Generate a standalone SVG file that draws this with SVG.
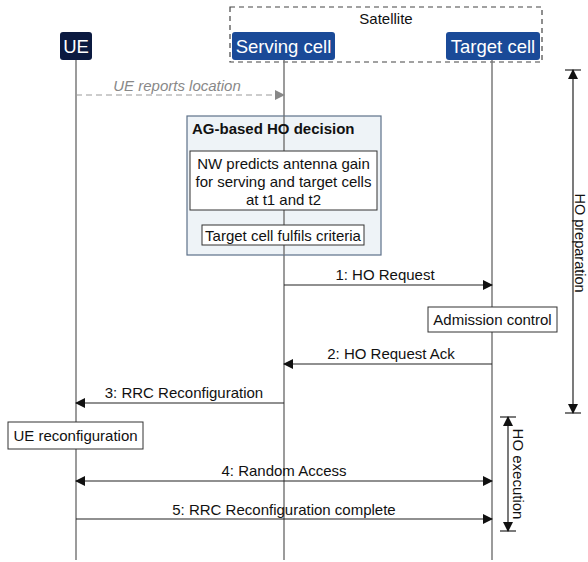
<svg xmlns="http://www.w3.org/2000/svg" width="588" height="562" viewBox="0 0 588 562">
<defs>
<style>
text{font-family:"Liberation Sans",Arial,sans-serif;font-size:15px;fill:#111}
.head{fill:#fff;font-size:18.5px;text-anchor:middle}
.life{stroke:#7a7a7a;stroke-width:1.5;fill:none}
.msg{stroke:#222;stroke-width:1.2;fill:none}
.note{fill:#fff;stroke:#333;stroke-width:1}
.c{text-anchor:middle}
</style>
<marker id="ah" markerWidth="10" markerHeight="10" refX="9" refY="5" orient="auto-start-reverse" markerUnits="userSpaceOnUse">
<path d="M0,0 L10,5 L0,10 Z" fill="#111"/>
</marker>
<marker id="ahg" markerWidth="10" markerHeight="10" refX="9" refY="5" orient="auto" markerUnits="userSpaceOnUse">
<path d="M0,0 L10,5 L0,10 Z" fill="#888"/>
</marker>
</defs>
<rect width="588" height="562" fill="#fff"/>

<g id="satellite">
<rect x="230" y="7" width="312" height="55" fill="none" stroke="#444" stroke-width="1.2" stroke-dasharray="5,4"/>
<text x="386" y="24" class="c">Satellite</text>
</g>

<g id="lifelines">
<line class="life" x1="76" y1="60" x2="76" y2="560"/>
<line class="life" x1="284" y1="60" x2="284" y2="560"/>
<line class="life" x1="492" y1="60" x2="492" y2="560"/>
</g>

<g id="ue">
<rect x="60" y="32" width="32" height="28" rx="3" fill="#0b1a40"/>
<text x="76" y="53" class="head">UE</text>
</g>
<g id="serving">
<rect x="232" y="32" width="103" height="28" rx="3" fill="#1a4a98"/>
<text x="283.5" y="53" class="head">Serving cell</text>
</g>
<g id="target">
<rect x="446" y="32" width="94" height="28" rx="3" fill="#1a4a98"/>
<text x="493" y="53" class="head">Target cell</text>
</g>

<g id="ag-decision">
<rect x="187" y="116" width="194" height="139" fill="#eef3f7" stroke="#5d7189" stroke-width="1.2"/>
<line class="life" x1="284" y1="116" x2="284" y2="255"/>
<text x="192" y="134" style="font-weight:bold">AG-based HO decision</text>
</g>
<g id="nw-predicts">
<rect class="note" x="190" y="151" width="187" height="59"/>
<text x="283.5" y="169" class="c">NW predicts antenna gain</text>
<text x="283.5" y="187" class="c">for serving and target cells</text>
<text x="283.5" y="205" class="c">at t1 and t2</text>
</g>
<g id="criteria">
<rect class="note" x="202" y="225" width="162" height="20"/>
<text x="283" y="240.5" class="c">Target cell fulfils criteria</text>
</g>

<g id="admission">
<rect class="note" x="428" y="307" width="129" height="25"/>
<text x="492.5" y="325" class="c">Admission control</text>
</g>
<g id="ue-reconf">
<rect class="note" x="8" y="422" width="135" height="27"/>
<text x="75.5" y="441" class="c">UE reconfiguration</text>
</g>

<g id="connectors">
<line x1="76" y1="95" x2="284" y2="95" stroke="#999" stroke-width="1.2" stroke-dasharray="6,4" marker-end="url(#ahg)"/>
<text x="177" y="91" class="c" style="fill:#888;font-style:italic">UE reports location</text>

<line class="msg" x1="284" y1="285" x2="492" y2="285" marker-end="url(#ah)"/>
<text x="385" y="280" class="c">1: HO Request</text>

<line class="msg" x1="492" y1="364" x2="284" y2="364" marker-end="url(#ah)"/>
<text x="391" y="359" class="c">2: HO Request Ack</text>

<line class="msg" x1="284" y1="403" x2="76" y2="403" marker-end="url(#ah)"/>
<text x="184" y="398" class="c">3: RRC Reconfiguration</text>

<line class="msg" x1="76" y1="481" x2="492" y2="481" marker-start="url(#ah)" marker-end="url(#ah)"/>
<text x="284" y="476" class="c">4: Random Access</text>

<line class="msg" x1="76" y1="519" x2="492" y2="519" marker-end="url(#ah)"/>
<text x="284" y="515" class="c">5: RRC Reconfiguration complete</text>
</g>

<g id="ho-preparation">
<line x1="565" y1="70" x2="581" y2="70" stroke="#222" stroke-width="1.2"/>
<line x1="565" y1="413" x2="581" y2="413" stroke="#222" stroke-width="1.2"/>
<line class="msg" x1="573" y1="70" x2="573" y2="413" marker-start="url(#ah)" marker-end="url(#ah)"/>
<text transform="translate(574.5,243) rotate(90)" class="c" style="font-size:14.5px">HO preparation</text>
</g>
<g id="ho-execution">
<line x1="500" y1="417" x2="516" y2="417" stroke="#222" stroke-width="1.2"/>
<line x1="500" y1="531" x2="516" y2="531" stroke="#222" stroke-width="1.2"/>
<line class="msg" x1="508" y1="417" x2="508" y2="531" marker-start="url(#ah)" marker-end="url(#ah)"/>
<text transform="translate(513,474) rotate(90)" class="c">HO execution</text>
</g>
</svg>
